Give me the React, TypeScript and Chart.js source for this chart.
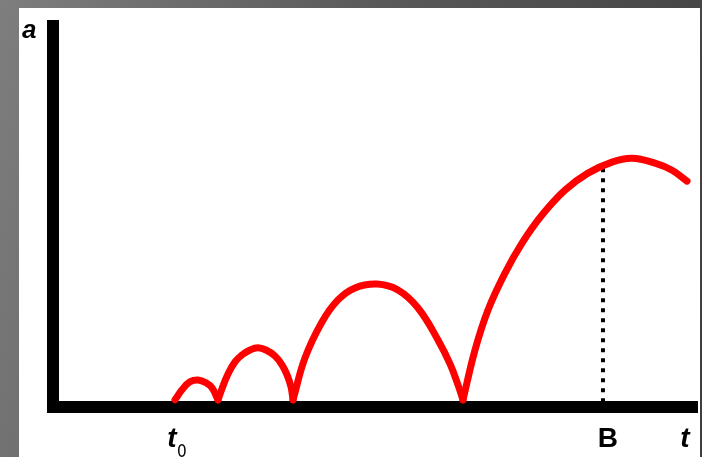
import React, { useEffect, useRef } from "react";
import { Chart, registerables } from "chart.js";

Chart.register(...registerables);

// Time axis (arbitrary units 0..100) and amplitude (arbitrary units)
const arch1T = [18.94, 20.03, 21.27, 22.52, 23.76, 24.69, 25.62];
const arch1A = [0, 4.2, 7.5, 8.3, 7.1, 5.0, 0];

const arch2T = [25.62, 26.24, 27.17, 28.26, 29.35, 30.59, 31.83, 33.07, 34.47, 35.56, 36.34, 36.96, 37.27];
const arch2A = [0, 4.6, 10.8, 15.8, 18.75, 20.8, 21.7, 20.8, 18.3, 14.6, 10.4, 5.4, 0];

const arch3T = [37.27, 39.13, 41.77, 44.25, 46.89, 50.31, 53.57, 56.68, 59.78, 61.65, 62.89, 63.66];
const arch3A = [0, 17.5, 32.5, 41.7, 46.7, 48.3, 45.8, 38.3, 25.0, 15.0, 6.25, 0];

const arch4T = [63.66, 65.53, 67.55, 70.19, 72.83, 75.93, 79.5, 83.07, 86.8, 89.91, 93.48, 96.12, 98.45];
const arch4A = [0, 20.8, 37.5, 52.9, 65.4, 77.1, 87.5, 94.6, 99.2, 100.8, 98.75, 95.8, 91.25];

const markerT = [85.4, 85.4];
const markerA = [-1, 96.5];

const tickValues = [18.94, 85.4, 98.45];
const tickLabels = ["t", "B", "t"];
const tickSubs = ["0", "", ""];
const yAxisLabel = "a";

const toPoints = (ts: number[], as: number[]) => ts.map((t, i) => ({ x: t, y: as[i] }));

export default function App() {
  const canvasRef = useRef<HTMLCanvasElement | null>(null);

  useEffect(() => {
    const canvas = canvasRef.current;
    if (!canvas) return;

    const arches = [
      [arch1T, arch1A],
      [arch2T, arch2A],
      [arch3T, arch3A],
      [arch4T, arch4A],
    ];

    const labelPlugin = {
      id: "labels",
      afterDraw(chart: any) {
        const ctx = chart.ctx;
        const xs = chart.scales.x;
        ctx.save();
        ctx.fillStyle = "#000";
        ctx.textBaseline = "alphabetic";
        // y axis label
        ctx.font = 'italic bold 26px "Liberation Sans", Arial, sans-serif';
        ctx.textAlign = "left";
        ctx.fillText(yAxisLabel, chart.chartArea.left - 31, chart.chartArea.top + 12);
        const offsets = [-3, 5, -2];
        tickValues.forEach((v, i) => {
          const px = xs.getPixelForValue(v) + offsets[i];
          const base = chart.chartArea.bottom + 40;
          if (tickLabels[i] === "B") {
            ctx.font = 'bold 28px "Liberation Sans", Arial, sans-serif';
          } else {
            ctx.font = 'italic bold 28px "Liberation Sans", Arial, sans-serif';
          }
          ctx.textAlign = "center";
          ctx.fillText(tickLabels[i], px, base);
          if (tickSubs[i]) {
            ctx.font = '17px "DejaVu Sans Condensed", "DejaVu Sans", sans-serif';
            ctx.textAlign = "left";
            ctx.fillText(tickSubs[i], px + 5, base + 10);
          }
        });
        ctx.restore();
      },
    };

    const chart = new Chart(canvas, {
      type: "line",
      data: {
        datasets: [
          ...arches.map(([t, a]) => ({
            data: toPoints(t as number[], a as number[]),
            borderColor: "#ff0000",
            borderWidth: 7,
            pointRadius: 0,
            tension: 0.4,
            borderCapStyle: "round" as const,
            borderJoinStyle: "round" as const,
            fill: false,
          })),
          {
            data: toPoints(markerT, markerA),
            borderColor: "#000000",
            borderWidth: 4,
            borderDash: [4, 6],
            pointRadius: 0,
            borderCapStyle: "butt" as const,
            fill: false,
          },
        ],
      },
      options: {
        responsive: false,
        animation: false,
        devicePixelRatio: 1,
        layout: { padding: { left: 53, right: 5, top: 26, bottom: 50 } },
        plugins: { legend: { display: false }, tooltip: { enabled: false } },
        scales: {
          x: {
            type: "linear",
            min: 0,
            max: 100,
            z: 1,
            grid: { display: false, drawTicks: false },
            ticks: { display: false },
            border: { display: true, width: 12, color: "#000" },
          },
          y: {
            type: "linear",
            min: -3,
            max: 156,
            z: 1,
            grid: { display: false, drawTicks: false },
            ticks: { display: false },
            border: { display: true, width: 12, color: "#000" },
          },
        },
      },
      plugins: [labelPlugin],
    });

    return () => chart.destroy();
  }, []);

  return (
    <div
      style={{
        position: "fixed",
        left: 0,
        top: 0,
        width: 702,
        height: 457,
        overflow: "hidden",
        background: "linear-gradient(105deg, #7e7e7e 0%, #5a5a5a 45%, #3e3e3e 100%)",
      }}
    >
      <div
        style={{
          position: "absolute",
          left: 19,
          top: 8,
          width: 681,
          height: 449,
          background: "#ffffff",
        }}
      />
      <canvas
        ref={canvasRef}
        width={702}
        height={457}
        style={{ position: "absolute", left: 0, top: 0, width: 702, height: 457 }}
      />
    </div>
  );
}
